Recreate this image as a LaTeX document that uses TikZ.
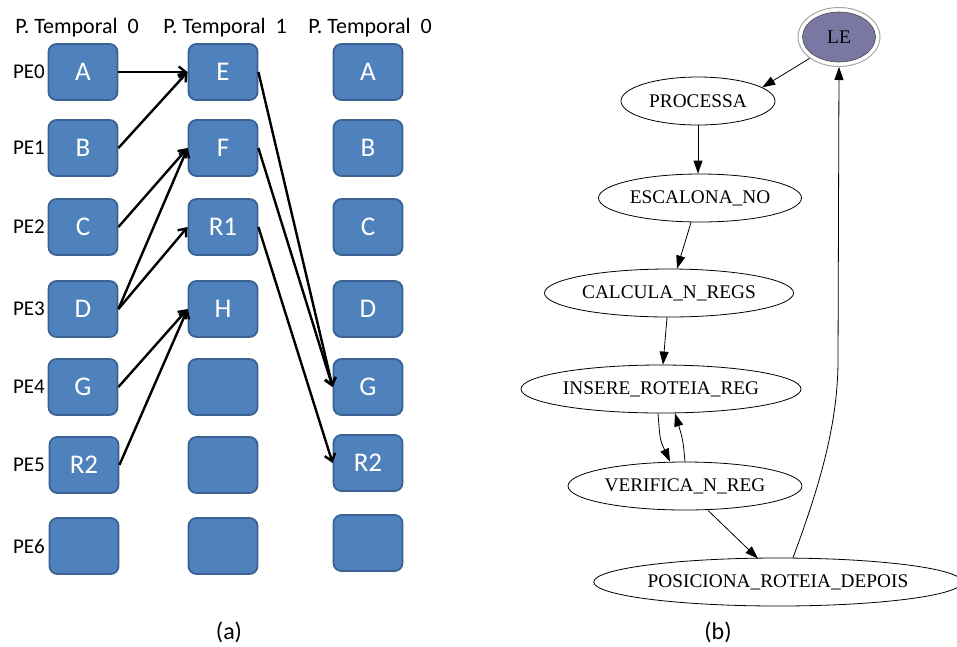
\documentclass[tikz,border=0pt]{standalone}
\usepackage{fontspec}
\setmainfont{Carlito}
\newfontfamily\graphfont{Liberation Serif}
\usetikzlibrary{shapes.geometric,arrows.meta,calc}

\definecolor{peblue}{HTML}{4F81BD}
\definecolor{peedge}{HTML}{3A6293}
\definecolor{lefill}{HTML}{7A78A2}

\tikzset{
  pebox/.style={draw=peedge, line width=1.8pt, fill=peblue, rounded corners=8pt,
    minimum width=69pt, minimum height=56pt, inner sep=0pt, text=white,
    font=\fontsize{27}{27}\selectfont},
  pelabel/.style={anchor=east, inner sep=0pt, font=\fontsize{21}{22}\selectfont},
  header/.style={inner sep=0pt, font=\fontsize{22}{23}\selectfont},
  caption/.style={inner sep=0pt, font=\fontsize{24}{26}\selectfont},
  flow/.style={line width=2.4pt, -{Straight Barb[length=7pt,width=11pt]}},
  state/.style={draw, ellipse, line width=0.8pt, inner sep=0pt,
    minimum height=48pt, font=\graphfont\fontsize{19.3}{20}\selectfont},
  gedge/.style={line width=0.8pt, -{Triangle[length=13pt,width=9pt]}}
}

\begin{document}
\begin{tikzpicture}[x=1pt,y=-1pt]
\useasboundingbox (0,0) rectangle (957,646);

% ---------- (a) processing elements over time ----------
\node[header] (h0) at (77,28) {P. Temporal\hspace{0.45em}0};
\node[header] (h1) at (225,28) {P. Temporal\hspace{0.45em}1};
\node[header] (h2) at (370,28) {P. Temporal\hspace{0.45em}0};

\foreach \i/\y in {0/72,1/148,2/227,3/309,4/387,5/465,6/546}
  \node[pelabel] (pe\i) at (45,\y) {PE\i};

% first time step
\node[pebox] (a0) at (83,72)  {A};
\node[pebox] (a1) at (83,148) {B};
\node[pebox] (a2) at (83,227) {C};
\node[pebox] (a3) at (83,309) {D};
\node[pebox] (a4) at (83,387) {G};
\node[pebox] (a5) at (84,465) {R2};
\node[pebox] (a6) at (84,546) {};

% second time step
\node[pebox] (b0) at (223,72)  {E};
\node[pebox] (b1) at (223,148) {F};
\node[pebox] (b2) at (223,227) {R1};
\node[pebox] (b3) at (223,309) {H};
\node[pebox] (b4) at (223,387) {};
\node[pebox] (b5) at (223,465) {};
\node[pebox] (b6) at (223,546) {};

% next period
\node[pebox] (c0) at (368,72)  {A};
\node[pebox] (c1) at (368,148) {B};
\node[pebox] (c2) at (368,227) {C};
\node[pebox] (c3) at (368,309) {D};
\node[pebox] (c4) at (368,387) {G};
\node[pebox] (c5) at (368,463) {R2};
\node[pebox] (c6) at (368,543) {};

\draw[flow] (a0.east) -- (b0.west);
\draw[flow] (a1.east) -- (b0.west);
\draw[flow] (a2.east) -- (b1.west);
\draw[flow] (a3.east) -- (b1.west);
\draw[flow] (a3.east) -- (b2.west);
\draw[flow] (a4.east) -- (b3.west);
\draw[flow] (a5.east) -- (b3.west);
\draw[flow] (b0.east) -- (c4.west);
\draw[flow] (b1.east) -- (c4.west);
\draw[flow] (b2.east) -- (c5.west);

\node[caption] (capa) at (229,632) {(a)};

% ---------- (b) state graph ----------
\node[draw=gray!70, ellipse, line width=1pt, minimum width=82pt, minimum height=59pt,
      inner sep=0pt] (le) at (839,37) {};
\node[draw=black!70, fill=lefill, ellipse, line width=0.6pt, minimum width=73pt,
      minimum height=50pt, inner sep=0pt, font=\graphfont\fontsize{19.3}{20}\selectfont]
      (lein) at (839,37) {LE};

\node[state, minimum width=154pt] (pro) at (698,101) {PROCESSA};
\node[state, minimum width=203pt] (esc) at (700,198) {ESCALONA\_NO};
\node[state, minimum width=249pt] (cal) at (669,293) {CALCULA\_N\_REGS};
\node[state, minimum width=280pt] (ins) at (661,389) {INSERE\_ROTEIA\_REG};
\node[state, minimum width=234pt] (ver) at (685,486) {VERIFICA\_N\_REG};
\node[state, minimum width=356pt] (pos) at (778,582) {POSICIONA\_ROTEIA\_DEPOIS};

\draw[gedge] (le.216) -- (pro.12);
\draw[gedge] (pro.south) -- (pro.south |- esc.north);
\draw[gedge] ($(esc.south)+(-9,0)$) -- ($(cal.north)+(8,0)$);
\draw[gedge] ($(cal.south)+(-2,0)$) -- ($(ins.north)+(2,0)$);
\draw[gedge] ($(ins.south)+(-3,0)$) .. controls (660,440) .. ($(ver.north)+(-15,0)$);
\draw[gedge] ($(ver.north)+(0,0)$) .. controls (683,440) .. ($(ins.south)+(14,0)$);
\draw[gedge] ($(ver.south)+(23,0)$) -- ($(pos.north)+(-20,1)$);
\draw[gedge] ($(pos.north)+(15,0)$) .. controls (822,480) and (838,420) .. (838,360)
  -- (le.south);

\node[caption] (capb) at (718,632) {(b)};
\end{tikzpicture}
\end{document}
